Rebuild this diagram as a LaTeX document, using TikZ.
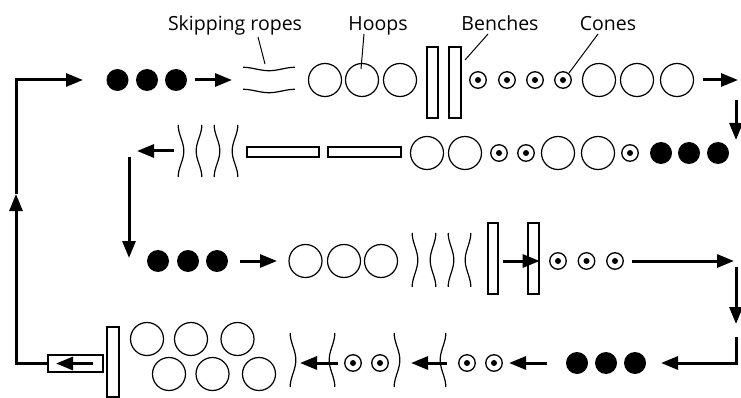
\documentclass[tikz,border=0pt]{standalone}
\usepackage{fontspec}
\setmainfont{Open Sans}
\usetikzlibrary{arrows.meta}
\newcommand\myvrope[4]{\draw[rope] plot[domain=0:1,samples=40,variable=\t] ({#1+#4*2.8*cos(360*\t)},{#2+(#3-#2)*\t});}
\newcommand\myhrope[3]{\draw[rope] plot[domain=0:1,samples=40,variable=\t] ({#1+(#2-#1)*\t},{#3-1.7*cos(360*\t)});}
\begin{document}
\begin{tikzpicture}[x=1pt,y=-1pt,
 hoop/.style={circle,draw,line width=1.2pt,minimum size=33pt,inner sep=0pt},
 ball/.style={circle,fill,minimum size=22pt,inner sep=0pt},
 cone/.style={circle,draw,line width=1.3pt,minimum size=16.5pt,inner sep=0pt,
   path picture={\fill (path picture bounding box.center) circle (3pt);}},
 benchbox/.style={draw,line width=1.2pt,inner sep=0pt,rectangle},
 flow/.style={line width=3pt,-{Triangle[length=17pt,width=13pt]}},
 rope/.style={line width=1.2pt},
 lead/.style={line width=1pt},
 lbl/.style={font=\fontsize{19.5pt}{22pt}\selectfont,anchor=base,inner sep=0pt}]
\useasboundingbox (0,0) rectangle (741,398);

% ---------- Row 1 ----------
\node[ball] (b11) at (117.5,80) {};
\node[ball] (b12) at (147,80) {};
\node[ball] (b13) at (176,80) {};
\coordinate (a1s) at (195,80); \coordinate (a1e) at (232,80);
\draw[flow] (a1s) -- (a1e);
\myhrope{243}{295}{69}
\myhrope{243}{295}{91}
\node[hoop] (h11) at (325,80) {};
\node[hoop] (h12) at (362,80) {};
\node[hoop] (h13) at (400,80) {};
\node[benchbox,minimum width=11pt,minimum height=71pt] (be11) at (432.5,82.5) {};
\node[benchbox,minimum width=12pt,minimum height=71pt] (be12) at (455,82.5) {};
\node[cone] (c11) at (478,80) {};
\node[cone] (c12) at (507,80) {};
\node[cone] (c13) at (535,80) {};
\node[cone] (c14) at (563,80) {};
\node[hoop] (h14) at (599,80) {};
\node[hoop] (h15) at (637,80) {};
\node[hoop] (h16) at (677,80) {};
\coordinate (a2s) at (703,80); \coordinate (a2e) at (738,80);
\draw[flow] (a2s) -- (a2e);

% labels
\node[lbl] (lrope) at (235,31) {Skipping ropes};
\node[lbl] (lhoop) at (378,31) {Hoops};
\node[lbl] (lbench) at (500,31) {Benches};
\node[lbl] (lcone) at (608,31) {Cones};
\coordinate (l1a) at (258,37); \coordinate (l1b) at (265,64);
\coordinate (l2a) at (364,34); \coordinate (l2b) at (361,69);
\coordinate (l3a) at (488,34); \coordinate (l3b) at (465,60);
\coordinate (l4a) at (598,34); \coordinate (l4b) at (569,73);
\draw[lead] (l1a) -- (l1b);
\draw[lead] (l2a) -- (l2b);
\draw[lead] (l3a) -- (l3b);
\draw[lead] (l4a) -- (l4b);

% down arrow row1 -> row2
\coordinate (d1s) at (736,100); \coordinate (d1e) at (736,140);
\draw[flow] (d1s) -- (d1e);

% ---------- Row 2 ----------
\node[ball] (b21) at (661,153) {};
\node[ball] (b22) at (689,153) {};
\node[ball] (b23) at (718,153) {};
\node[cone] (c21) at (630,153) {};
\node[hoop] (h21) at (598,153) {};
\node[hoop] (h22) at (558,153) {};
\node[cone] (c22) at (526,153) {};
\node[cone] (c23) at (499,153) {};
\node[hoop] (h23) at (465,153) {};
\node[hoop] (h24) at (427,153) {};
\node[benchbox,minimum width=73pt,minimum height=10pt] (be21) at (364.5,152) {};
\node[benchbox,minimum width=72pt,minimum height=10pt] (be22) at (283,152) {};
\myvrope{235}{125}{177}{1}
\myvrope{217}{125}{177}{-1}
\myvrope{199}{125}{177}{1}
\myvrope{181}{125}{177}{-1}
\coordinate (a3s) at (174,151); \coordinate (a3e) at (137,151);
\draw[flow] (a3s) -- (a3e);
\coordinate (d2s) at (129,157); \coordinate (d2e) at (129,258);
\draw[flow] (d2s) -- (d2e);

% ---------- Row 3 ----------
\node[ball] (b31) at (158,261) {};
\node[ball] (b32) at (188,261) {};
\node[ball] (b33) at (217,261) {};
\coordinate (a4s) at (240,261); \coordinate (a4e) at (277,261);
\draw[flow] (a4s) -- (a4e);
\node[hoop] (h31) at (305.5,261) {};
\node[hoop] (h32) at (344,261) {};
\node[hoop] (h33) at (381,261) {};
\myvrope{415}{233}{287}{-1}
\myvrope{433}{233}{287}{1}
\myvrope{451}{233}{287}{-1}
\myvrope{468}{233}{287}{1}
\node[benchbox,minimum width=10pt,minimum height=71pt] (be31) at (493,258.5) {};
\node[benchbox,minimum width=11pt,minimum height=71pt] (be32) at (533.5,258.5) {};
\draw[flow] (be31.east |- 0,261) ++(4,0) coordinate (a5s) -- (be32.east |- 0,261);
\node[cone] (c31) at (558,261) {};
\node[cone] (c32) at (586.5,261) {};
\node[cone] (c33) at (615,261) {};
\coordinate (a6s) at (632,261); \coordinate (a6e) at (734,261);
\draw[flow] (a6s) -- (a6e);
\coordinate (d3s) at (736,267); \coordinate (d3e) at (736,324);
\draw[flow] (d3s) -- (d3e);

% ---------- Row 4 ----------
\coordinate (r4a) at (736,337); \coordinate (r4b) at (736,363); \coordinate (r4c) at (661,363);
\draw[flow] (r4a) -- (r4b) -- (r4c);
\node[ball] (b41) at (577,363) {};
\node[ball] (b42) at (606,363) {};
\node[ball] (b43) at (635,363) {};
\coordinate (a7s) at (547,363); \coordinate (a7e) at (509,363);
\draw[flow] (a7s) -- (a7e);
\node[cone] (c41) at (494,363) {};
\node[cone] (c42) at (467,363) {};
\myvrope{443}{333}{387}{1}
\coordinate (a8s) at (447,363); \coordinate (a8e) at (411,363);
\draw[flow] (a8s) -- (a8e);
\myvrope{397}{333}{387}{-1}
\node[cone] (c43) at (380,363) {};
\node[cone] (c44) at (353,363) {};
\myvrope{332}{333}{387}{1}
\coordinate (a9s) at (338,363); \coordinate (a9e) at (300,363);
\draw[flow] (a9s) -- (a9e);
\myvrope{293}{333}{387}{-1}
\node[hoop] (h41) at (147,339) {};
\node[hoop] (h42) at (191,339) {};
\node[hoop] (h43) at (237.5,339) {};
\node[hoop] (h44) at (169,374) {};
\node[hoop] (h45) at (212.5,374) {};
\node[hoop] (h46) at (259,374) {};
\node[benchbox,minimum width=12pt,minimum height=70pt] (be41) at (113,362) {};
\node[benchbox,minimum width=55pt,minimum height=17pt] (mat) at (75.5,363.5) {};
\coordinate (a10s) at (93,363.5); \coordinate (a10e) at (56,363.5);
\draw[flow] (a10s) -- (a10e);

% ---------- loop back ----------
\coordinate (lpA) at (16,363.5); \coordinate (lpM) at (16,194);
\coordinate (lpB) at (16,80); \coordinate (lpC) at (83,80);
\draw[flow] (mat.west) -- (lpA) -- (lpM);
\draw[flow] (lpM) -- (lpB) -- (lpC);
\end{tikzpicture}
\end{document}
